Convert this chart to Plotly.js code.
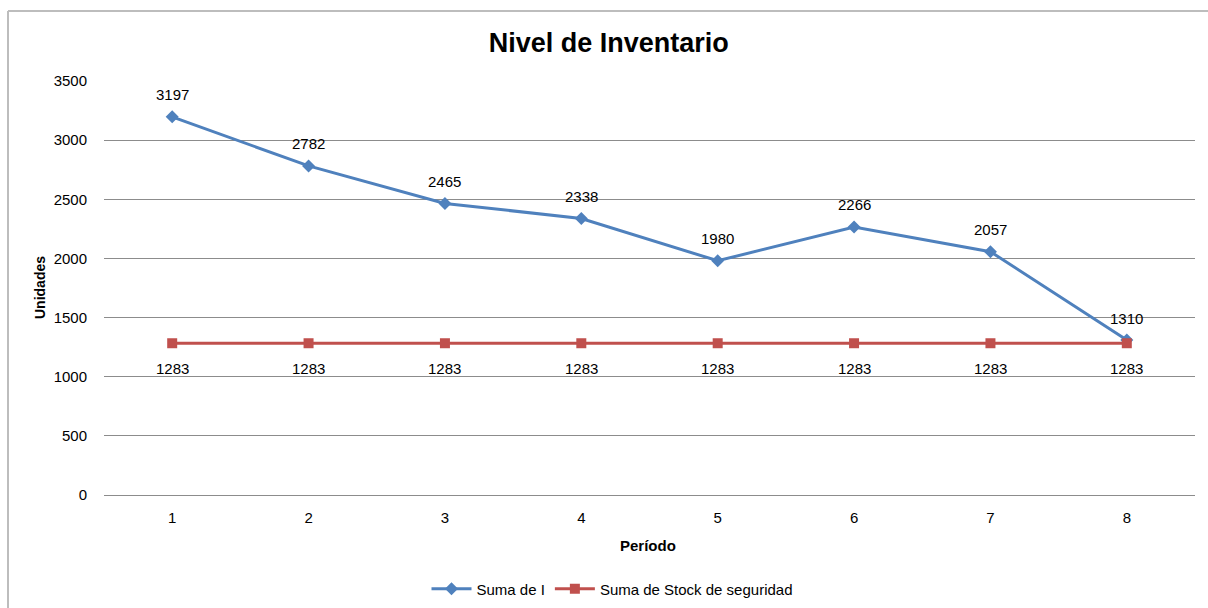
<!DOCTYPE html>
<html>
<head>
<meta charset="utf-8">
<script src="https://cdn.plot.ly/plotly-3.0.1.min.js"></script>
<style>html,body{margin:0;padding:0;background:#fff;}#chart{width:1208px;height:608px;}</style>
</head>
<body>
<div id="chart"></div>
<script>
const periods = [1, 2, 3, 4, 5, 6, 7, 8];
const sumaI = [3197, 2782, 2465, 2338, 1980, 2266, 2057, 1310];
const stockSeguridad = [1283, 1283, 1283, 1283, 1283, 1283, 1283, 1283];
const yTicks = [0, 500, 1000, 1500, 2000, 2500, 3000, 3500];

const W = 1208, H = 608;
const M = {l: 104, r: 13, t: 81, b: 113, autoexpand: false};
const pw = W - M.l - M.r, ph = H - M.t - M.b;
const font = "Liberation Sans, Arial, sans-serif";

const traces = [
  {x: periods, y: sumaI, name: 'Suma de I', type: 'scatter', mode: 'lines+markers',
   line: {color: '#4F81BD', width: 3}, marker: {symbol: 'diamond', size: 10, color: '#4F81BD'}},
  {x: periods, y: stockSeguridad, name: 'Suma de Stock de seguridad', type: 'scatter', mode: 'lines+markers',
   line: {color: '#C0504D', width: 3}, marker: {symbol: 'square', size: 10, color: '#C0504D'}}
];

const annotations = [];
periods.forEach((p, i) => {
  annotations.push({x: p, y: sumaI[i], text: String(sumaI[i]), showarrow: false, yshift: 22,
    font: {family: font, size: 15, color: '#000'}});
  annotations.push({x: p, y: stockSeguridad[i], text: String(stockSeguridad[i]), showarrow: false, yshift: -25,
    font: {family: font, size: 15, color: '#000'}});
});
// axis titles
annotations.push({xref: 'paper', yref: 'paper', x: (40 - M.l) / pw, y: 1 - (288 - M.t) / ph,
  text: '<b>Unidades</b>', textangle: -90, showarrow: false, xanchor: 'center', yanchor: 'middle',
  font: {family: font, size: 14, color: '#000'}});
annotations.push({xref: 'paper', yref: 'paper', x: (648 - M.l) / pw, y: -(545 - M.t - ph) / ph,
  text: '<b>Período</b>', showarrow: false, xanchor: 'center', yanchor: 'middle',
  font: {family: font, size: 15, color: '#000'}});

// chart border (top and left edges visible)
const bx = (8 - M.l) / pw, by = 1 + (M.t - 11) / ph;
const shapes = [
  {type: 'line', xref: 'paper', yref: 'paper', x0: bx, x1: 1 + M.r / pw + 0.01, y0: by, y1: by, line: {color: '#BDBDBD', width: 2}},
  {type: 'line', xref: 'paper', yref: 'paper', x0: bx, x1: bx, y0: by, y1: -M.b / ph - 0.01, line: {color: '#BDBDBD', width: 2}}
];

const layout = {
  width: W, height: H,
  margin: M,
  paper_bgcolor: '#fff', plot_bgcolor: '#fff',
  font: {family: font, size: 15, color: '#000'},
  title: {text: '<b>Nivel de Inventario</b>', x: 0.504, xanchor: 'center', y: 1 - 43 / H, yanchor: 'middle',
    font: {family: font, size: 27, color: '#000'}},
  xaxis: {range: [0.5, 8.5], tickvals: periods, ticktext: periods.map(String), showgrid: false,
    zeroline: false, showline: false, ticks: '', tickfont: {size: 15}, automargin: false,
    ticklabelstandoff: 12},
  yaxis: {range: [0, 3500], tickvals: yTicks, ticktext: yTicks.map(String), showgrid: true,
    gridcolor: '#8C8C8C', gridwidth: 1, zeroline: true, zerolinecolor: '#8C8C8C', zerolinewidth: 1,
    showline: false, ticks: '', ticklabelstandoff: 16, tickfont: {size: 15}, automargin: false},
  showlegend: true,
  legend: {orientation: 'h', x: (612 - M.l) / pw, xanchor: 'center', y: -(589 - 495) / ph, yanchor: 'middle',
    font: {size: 15}, itemwidth: 40, traceorder: 'normal'},
  annotations: annotations,
  shapes: shapes
};

Plotly.newPlot('chart', traces, layout, {displayModeBar: false, staticPlot: true});
</script>
</body>
</html>
